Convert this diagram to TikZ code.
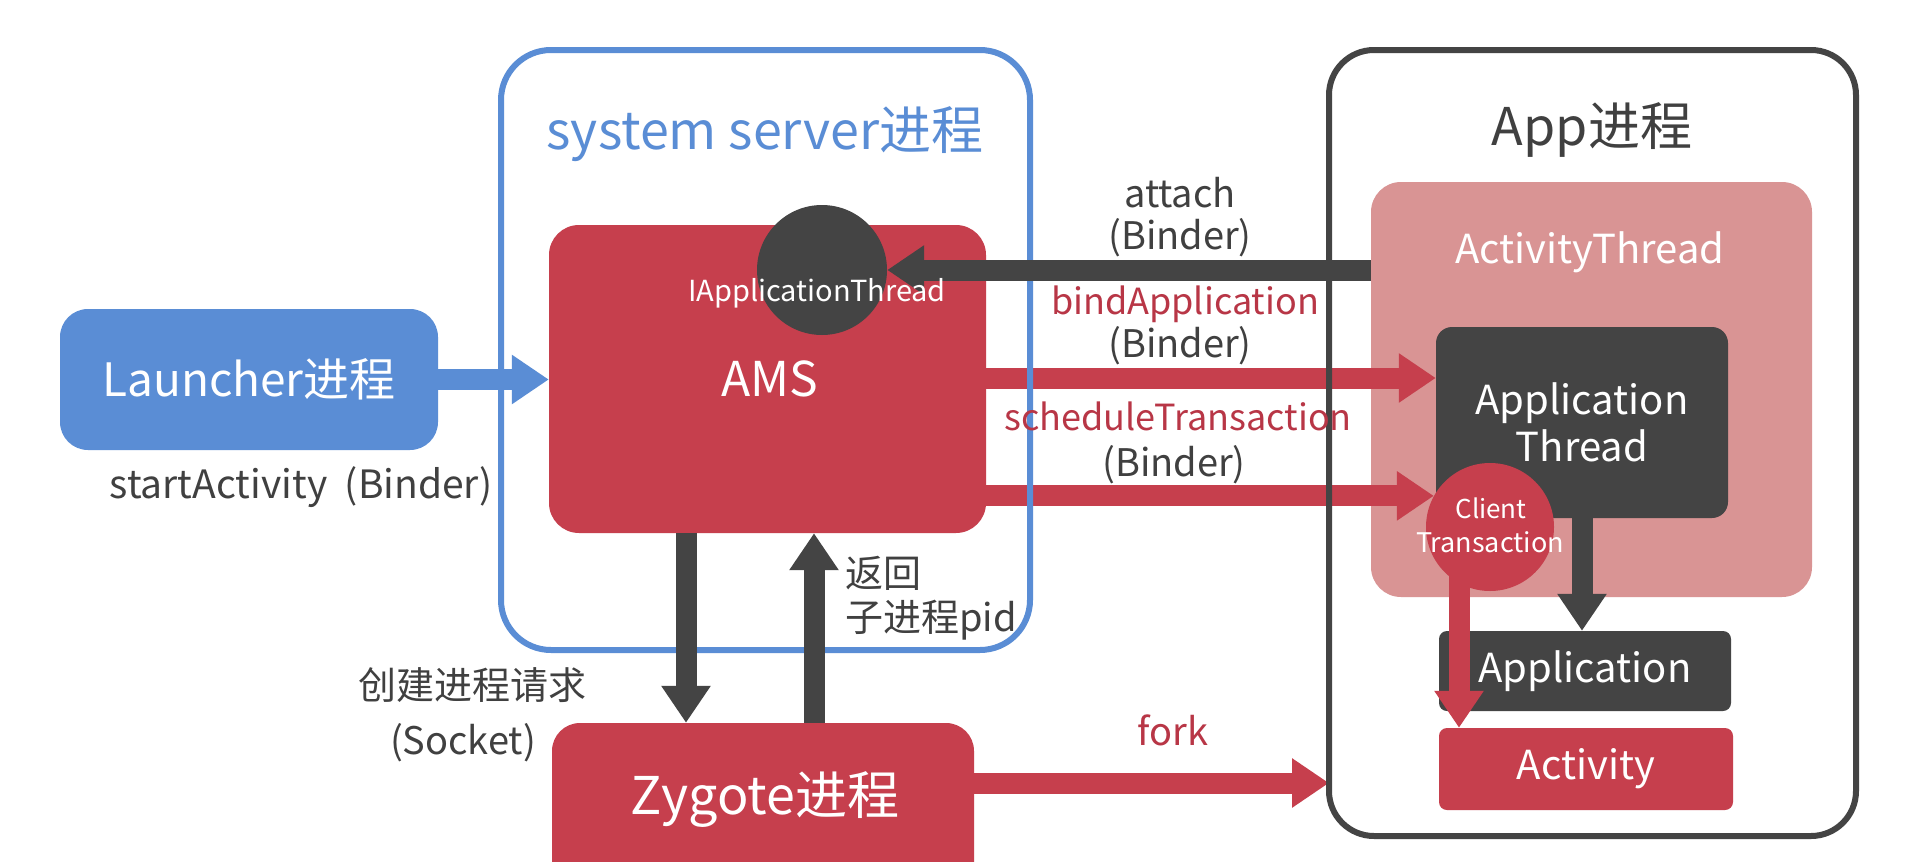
\documentclass[tikz,border=0pt]{standalone}
\usepackage{fontspec}
\setmainfont{Noto Sans CJK SC}
\usetikzlibrary{arrows.meta,shapes.geometric}
\definecolor{cblue}{RGB}{90,141,213}
\definecolor{cred}{RGB}{198,63,77}
\definecolor{credtext}{RGB}{184,54,70}
\definecolor{cpink}{RGB}{217,148,148}
\definecolor{cdark}{RGB}{68,68,68}
\definecolor{ctext}{RGB}{64,64,64}
\newcommand\fsz[1]{\fontsize{#1}{#1}\selectfont}
\tikzset{
  box/.style={inner sep=0pt, text=white, rounded corners=#1},
  box/.default=8pt,
  blockarrow/.style={line width=21pt, -{Triangle[width=47pt,length=37pt]}},
  lbl/.style={inner sep=0pt, text=ctext, font=\fsz{38}},
  rlbl/.style={inner sep=0pt, text=credtext, font=\fsz{36}},
  wlbl/.style={inner sep=0pt, text=white},
}
\begin{document}
\begin{tikzpicture}[x=1pt,y=-1pt]
\useasboundingbox (0,0) rectangle (1920,862);
\fill[white] (0,0) rectangle (1920,862);

% coordinates for arrow lines
\coordinate (ybind) at (0,378);
\coordinate (yfork) at (0,783);
\coordinate (xdown) at (686,0);
\coordinate (xup) at (814,0);
\coordinate (xct) at (1459,0);

% filled boxes
\node[box=28pt, fill=cblue, minimum width=378pt, minimum height=141pt, font=\fsz{46}] (launcher) at (249,379.5) {Launcher进程};
\node[box=30pt, fill=cred, minimum width=437pt, minimum height=308pt] (ams) at (767.5,379) {};
\node[box=28pt, fill=cred, minimum width=422pt, minimum height=190pt] (zyg) at (763,818) {};
\node[box=30pt, fill=cpink, minimum width=441pt, minimum height=415pt] (atbox) at (1591.5,389.5) {};
\node[box=16pt, fill=cdark, minimum width=292pt, minimum height=191pt, align=center, font=\fontsize{40}{47}\selectfont] (apt) at (1582,422.5) {Application\\Thread};
\node[box=8pt, fill=cdark, minimum width=292pt, minimum height=80pt, font=\fsz{40}] (app) at (1585,671) {Application};
\node[box=8pt, fill=cred, minimum width=294pt, minimum height=82pt, font=\fsz{40}] (act) at (1586,769) {Activity};

% arrows under outlines
\draw[blockarrow, cblue] (launcher.east) -- (launcher.east -| ams.west);
\draw[blockarrow, cred] (ams.east |- ybind) -- (apt.west |- ybind);
\node[circle, fill=cred, minimum size=128pt, inner sep=0pt] (ct) at (1490,527) {};
\draw[blockarrow, cred] (ams.east |- ct.151) -- (ct.151);
\draw[blockarrow, cred] (zyg.east |- yfork) -- (1329,783) coordinate (forkend);
\draw[blockarrow, cdark] (apt.south) -- (apt.south |- app.north);
\draw[blockarrow, cred] (ct.center -| xct) -- (act.north -| xct);

% containers (outlines)
\node[draw=cblue, line width=6pt, rounded corners=50pt, minimum width=529pt, minimum height=600pt, inner sep=0pt] (sysbox) at (765.5,350) {};
\node[draw=cdark, line width=6pt, rounded corners=45pt, minimum width=527pt, minimum height=786pt, inner sep=0pt] (appbox) at (1592.5,443) {};

% circle IApplicationThread and attach arrow
\node[circle, fill=cdark, minimum size=130pt, inner sep=0pt] (iat) at (822,270) {};
\draw[blockarrow, cdark] (atbox.west |- iat.east) -- (iat.east);

% Zygote up/down arrows
\draw[blockarrow, cdark] (ams.south -| xdown) -- (zyg.north -| xdown);
\draw[blockarrow, cdark] (zyg.north -| xup) -- (ams.south -| xup);

% texts inside
\node[wlbl, font=\fsz{29}] (iattext) at (817,293) {IApplicationThread};
\node[wlbl, font=\fsz{48}] (amstext) at (770,379) {AMS};
\node[wlbl, font=\fsz{52}] (zygtext) at (765,800) {Zygote进程};
\node[wlbl, font=\fsz{40}] (attext) at (1590,252) {ActivityThread};
\node[wlbl, font=\fsz{26}] (ct1) at (1491,508) {Client};
\node[wlbl, font=\fsz{27}] (ct2) at (1490,542) {Transaction};

% titles
\node[inner sep=0pt, text=cblue, font=\fsz{52}] (systitle) at (765,134) {system server进程};
\node[inner sep=0pt, text=ctext, font=\fsz{52}] (apptitle) at (1592,130) {App进程};

% labels
\node[lbl, font=\fsz{39}] (startlbl) at (301,487) {startActivity\hspace{0.45em}(Binder)};
\node[lbl] (attach1) at (1180,193) {attach};
\node[lbl] (attach2) at (1180,238) {(Binder)};
\node[rlbl] (bind1) at (1185,304) {bindApplication};
\node[lbl] (bind2) at (1180,346) {(Binder)};
\node[rlbl] (sched1) at (1178,416) {scheduleTransaction};
\node[lbl] (sched2) at (1174,465) {(Binder)};
\node[lbl, anchor=west] (ret1) at (845,573) {返回};
\node[lbl, anchor=west] (ret2) at (845,620) {子进程pid};
\node[lbl] (create1) at (472,685) {创建进程请求};
\node[lbl] (create2) at (463,743) {(Socket)};
\node[rlbl, font=\fsz{38}] (forklbl) at (1173,730) {fork};
\end{tikzpicture}
\end{document}
